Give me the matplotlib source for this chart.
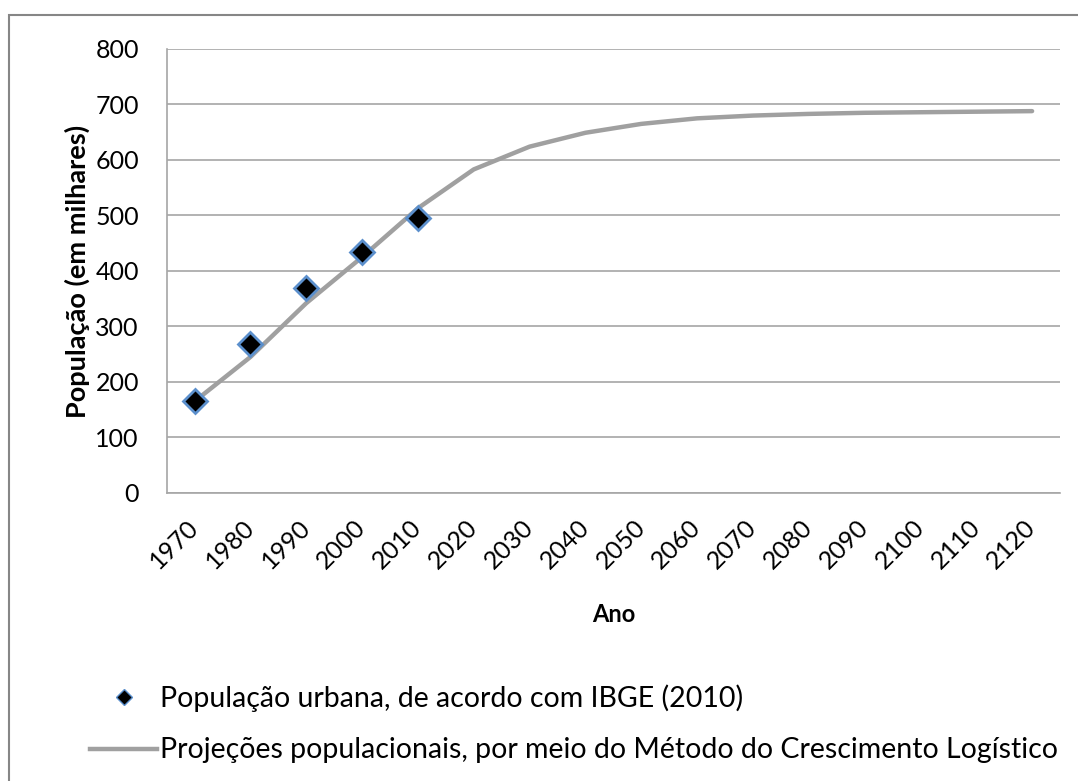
import matplotlib
matplotlib.use("Agg")
import matplotlib.pyplot as plt
from matplotlib.patches import Rectangle
from matplotlib.lines import Line2D

# dados do gráfico
anos = [1970, 1980, 1990, 2000, 2010, 2020, 2030, 2040, 2050, 2060,
        2070, 2080, 2090, 2100, 2110, 2120]
ibge_anos = [1970, 1980, 1990, 2000, 2010]
ibge_pop = [165, 268, 370, 435, 496]
projecao = [165, 245, 342, 425, 513, 583, 624, 649, 665, 675,
            680, 683, 685, 686, 687, 688]
y_ticks = [0, 100, 200, 300, 400, 500, 600, 700, 800]

label_ibge = "População urbana, de acordo com IBGE (2010)"
label_proj = "Projeções populacionais, por meio do Método do Crescimento Logístico"


def main():
    plt.rcParams["font.family"] = ["Lato", "DejaVu Sans"]
    fig = plt.figure(figsize=(10.78, 7.81), dpi=100)
    ax = fig.add_axes([0.1546, 0.3688, 0.9833 - 0.1546, 0.9373 - 0.3688])

    # moldura externa (estilo Excel)
    fig.patches.append(Rectangle((9 / 1078, -0.05), 1.1, 1 - 15 / 781 + 0.05,
                                 transform=fig.transFigure, fill=False,
                                 edgecolor="#868686", linewidth=1.5))

    xpos = list(range(len(anos)))
    ibge_pos = [anos.index(a) for a in ibge_anos]

    ax.plot(xpos, projecao, color="#A0A0A0", linewidth=3.2,
            solid_capstyle="round", zorder=2)
    ax.plot(ibge_pos, ibge_pop, linestyle="none", marker="D", markersize=12,
            markerfacecolor="black", markeredgecolor="#5B8FCC",
            markeredgewidth=2, zorder=3)

    ax.set_xlim(-0.5, len(anos) - 0.5)
    ax.set_ylim(0, 800)
    ax.set_yticks(y_ticks)
    ax.set_yticklabels([str(v) for v in y_ticks], fontsize=18)
    ax.set_xticks(xpos)
    ax.set_xticklabels([str(a) for a in anos], fontsize=18, rotation=45,
                       ha="right", va="center", rotation_mode="anchor")
    ax.tick_params(length=0)
    ax.tick_params(axis="y", pad=20)
    ax.tick_params(axis="x", pad=22)

    ax.grid(axis="y", color="#A6A6A6", linewidth=1.2)
    ax.set_axisbelow(True)
    for s in ["top", "right"]:
        ax.spines[s].set_visible(False)
    for s in ["left", "bottom"]:
        ax.spines[s].set_color("#A6A6A6")
        ax.spines[s].set_linewidth(1.2)

    ax.set_ylabel("População (em milhares)", fontsize=19.5, fontweight="bold",
                  labelpad=4)
    ax.set_xlabel("Ano", fontsize=17, fontweight="bold", labelpad=22)

    handles = [
        Line2D([], [], linestyle="none", marker="D", markersize=8,
               markerfacecolor="black", markeredgecolor="#5B8FCC",
               markeredgewidth=1),
        Line2D([], [], color="#A0A0A0", linewidth=3.2),
    ]
    fig.legend(handles, [label_ibge, label_proj], loc="upper left",
               bbox_to_anchor=(76 / 1078, 1 - 670 / 781), frameon=False,
               borderpad=0, fontsize=20.5, handlelength=2.35,
               handletextpad=0.1, labelspacing=0.9)

    fig.savefig("out.png", dpi=100)


if __name__ == "__main__":
    main()
